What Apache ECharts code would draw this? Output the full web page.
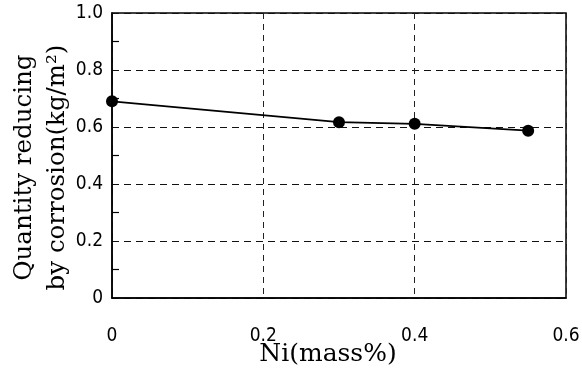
<!DOCTYPE html>
<html><head><meta charset="utf-8">
<script src="https://cdn.jsdelivr.net/npm/echarts@6/dist/echarts.min.js"></script>
<style>html,body{margin:0;padding:0;background:#fff}#c{width:582px;height:371px}</style>
</head><body><div id="c"></div>
<script>
var niValues = [0, 0.3, 0.4, 0.55];
var reduction = [0.69, 0.617, 0.611, 0.587];
var xTicks = [0, 0.2, 0.4, 0.6];
var yTicks = [0, 0.2, 0.4, 0.6, 0.8, 1.0];
var xTitle = 'Ni(mass%)';
var yTitle = 'Quantity reducing\nby corrosion(kg/m\u00B2)';

function fmt(v) { return v === 0 ? '0' : v.toFixed(1); }
var tickFont = "'DejaVu Sans Condensed', 'Liberation Sans Narrow', 'Liberation Sans', sans-serif";

var chart = echarts.init(document.getElementById('c'), null, {renderer: 'canvas'});
chart.setOption({
  animation: false,
  backgroundColor: '#fff',
  grid: {left: 112, right: 16, top: 13, bottom: 73, outerBoundsMode: 'none', containLabel: false,
    show: true, borderColor: '#000', borderWidth: 1.5, backgroundColor: 'transparent'},
  xAxis: {
    type: 'value', min: xTicks[0], max: xTicks[xTicks.length - 1], interval: 0.2,
    name: xTitle, nameLocation: 'middle', nameGap: 44, nameMoveOverlap: false,
    nameTextStyle: {fontFamily: 'DejaVu Serif', fontSize: 25, color: '#000', padding: [0, 22, 0, 0]},
    axisLine: {show: true, lineStyle: {color: '#000', width: 1.5}},
    axisTick: {show: false},
    axisLabel: {margin: 29, fontFamily: tickFont, fontSize: 19, color: '#000', formatter: fmt},
    splitLine: {show: true, lineStyle: {color: '#222', width: 1, type: [6, 5]}}
  },
  yAxis: {
    type: 'value', min: yTicks[0], max: yTicks[yTicks.length - 1], interval: 0.2,
    name: yTitle, nameLocation: 'middle', nameGap: 38, nameRotate: 90, nameMoveOverlap: false,
    nameTextStyle: {fontFamily: 'DejaVu Serif', fontSize: 24.5, color: '#000', lineHeight: 33, padding: [0, 24, 0, 0]},
    axisLine: {show: true, lineStyle: {color: '#000', width: 1.5}},
    axisTick: {show: false, inside: true},
    minorTick: {show: true, splitNumber: 2, length: 7, lineStyle: {color: '#000', width: 1.2}},
    axisLabel: {margin: 9, fontFamily: tickFont, fontSize: 19, color: '#000', formatter: fmt},
    splitLine: {show: true, lineStyle: {color: '#111', width: 1.2, type: [7, 5]}}
  },
  series: [{
    type: 'line',
    data: niValues.map(function (x, i) { return [x, reduction[i]]; }),
    symbol: 'circle', symbolSize: 12,
    lineStyle: {color: '#000', width: 1.8},
    itemStyle: {color: '#000'},
    z: 5
  }]
});
</script>
</body></html>
